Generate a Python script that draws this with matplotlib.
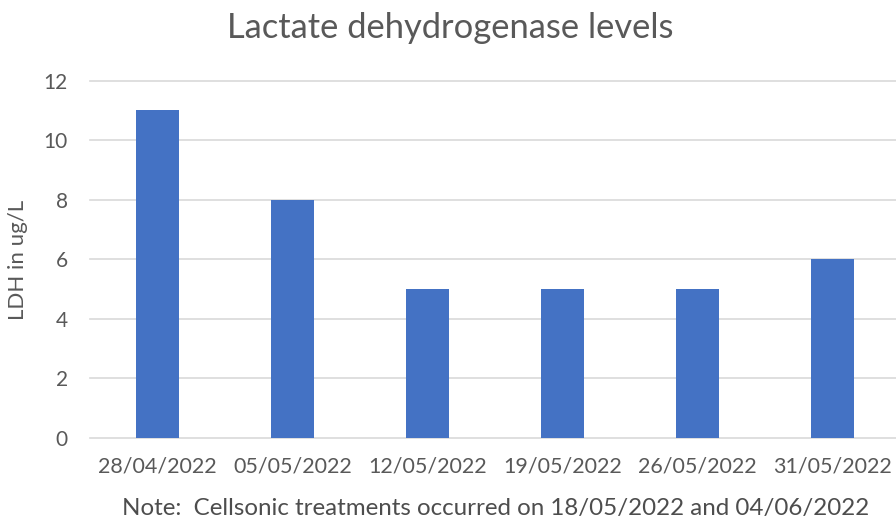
import matplotlib
matplotlib.use("Agg")
import matplotlib.pyplot as plt

categories = ["28/04/2022", "05/05/2022", "12/05/2022", "19/05/2022", "26/05/2022", "31/05/2022"]
values = [11, 8, 5, 5, 5, 6]
yticks = [0, 2, 4, 6, 8, 10, 12]

title = "Lactate dehydrogenase levels"
ylabel = "LDH in ug/L"
note = "Note:  Cellsonic treatments occurred on 18/05/2022 and 04/06/2022"

plt.rcParams['font.family'] = ['Lato', 'DejaVu Sans']
text_color = "#595959"

W, H = 896, 525
fig = plt.figure(figsize=(W / 100, H / 100), dpi=100)
left, right = 90, 900
bottom, top = 438, 80.7
ax = fig.add_axes([left / W, (H - bottom) / H, (right - left) / W, (bottom - top) / H])

x = list(range(len(categories)))
ax.bar(x, values, width=0.32, color="#4472C4", zorder=3)
ax.set_xlim(-0.5, -0.5 + (right - left) / 135)
ax.set_ylim(0, 12)
ax.set_yticks(yticks)
ax.set_yticklabels([str(v) for v in yticks])
ax.set_xticks(x)
ax.set_xticklabels(categories)

for s in ax.spines.values():
    s.set_visible(False)
for v in yticks:
    ax.axhline(v, color="#d9d9d9", lw=1.2, zorder=1, clip_on=False)

ax.tick_params(axis="both", length=0, colors=text_color)
ax.tick_params(axis="y", labelsize=15, pad=16)
ax.tick_params(axis="x", labelsize=15.5, pad=13)

fig.text(18 / W, 1 - 260 / H, ylabel, ha="center", va="center", rotation=90,
         fontsize=16, color=text_color)
fig.text(450 / W, 1 - 28 / H, title, ha="center", va="center", fontsize=24.8, color=text_color)
fig.text(496 / W, 1 - 508 / H, note, ha="center", va="center", fontsize=17.4, color="#4d4d4d")

fig.savefig("out.png", dpi=100)
